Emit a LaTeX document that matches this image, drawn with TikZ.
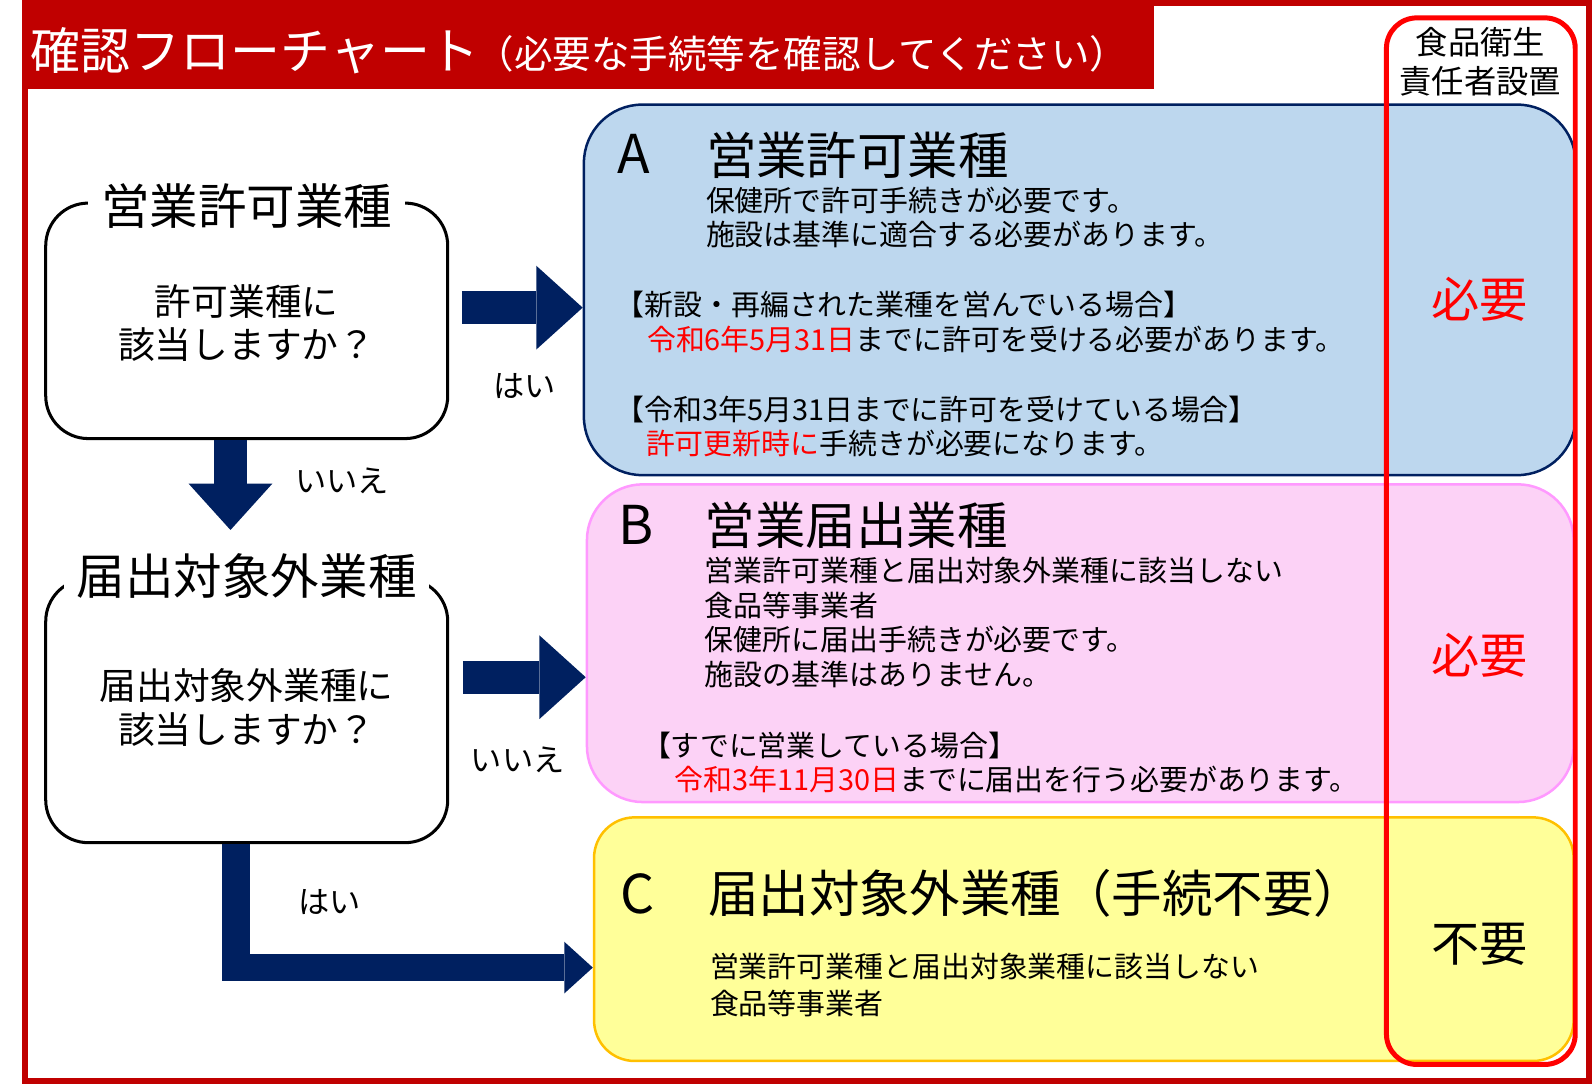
\documentclass[tikz,border=0pt]{standalone}
\usepackage{fontspec}
\setmainfont{Noto Sans CJK JP}
\usepackage{xcolor}
\usepackage{tikz}
\usetikzlibrary{arrows.meta}
\definecolor{titlered}{HTML}{C00000}
\definecolor{navy}{HTML}{002060}
\definecolor{boxblue}{HTML}{BDD7EE}
\definecolor{boxpink}{HTML}{FCD2F6}
\definecolor{pinkline}{HTML}{FF99FF}
\definecolor{boxyellow}{HTML}{FFFF99}
\definecolor{goldline}{HTML}{FFC000}
\tikzset{
  qbox/.style={draw, line width=1.7pt, rounded corners=0.84cm, minimum width=7.92cm},
  qtitle/.style={fill=white, inner xsep=0.25cm, inner ysep=0pt, font=\fontsize{27.2pt}{32pt}\selectfont},
  qtext/.style={align=center, inner sep=0pt, font=\fontsize{20.6pt}{24.4pt}\selectfont},
  ansbox/.style={line width=1.4pt},
  letter/.style={anchor=west, inner sep=0pt, font=\fontsize{30pt}{34pt}\selectfont},
  heading/.style={anchor=west, inner sep=0pt, font=\fontsize{28.3pt}{34pt}\selectfont},
  body/.style={anchor=west, align=left, inner sep=0pt, font=\fontsize{16.2pt}{19.4pt}\selectfont},
  yesno/.style={inner sep=0pt, font=\fontsize{17.5pt}{20pt}\selectfont},
  need/.style={inner sep=0pt, font=\fontsize{27pt}{30pt}\selectfont},
  blockarrow/.style={draw=navy, line width=18.7pt, -{Triangle[length=26pt, width=47pt, line width=0pt]}},
}

\begin{document}
\begin{tikzpicture}[x=0.02cm, y=-0.02cm]
\useasboundingbox (0,0) rectangle (1568,1068);

\fill[titlered] (22,0) rectangle (1137,88);
\draw[titlered, line width=3.4pt] (25,3) rectangle (1565,1065);
\node[anchor=west, inner sep=0pt, white, font=\fontsize{28pt}{32pt}\selectfont] (title) at (30,50) {確認フローチャート};
\node[anchor=west, inner sep=0pt, white, font=\fontsize{21.6pt}{25pt}\selectfont] (subtitle) at (468,53) {（必要な手続等を確認してください）};

\node[ansbox, draw=navy, fill=boxblue, rounded corners=1.15cm, minimum width=19.54cm, minimum height=7.3cm] (A) at (1063.5,285.5) {};
\node[ansbox, draw=pinkline, fill=boxpink, rounded corners=1.1cm, minimum width=19.44cm, minimum height=6.26cm] (B) at (1064,633.5) {};
\node[ansbox, draw=goldline, fill=boxyellow, rounded corners=0.8cm, minimum width=19.3cm, minimum height=4.8cm] (C) at (1067.5,925) {};

\node[letter] (Aletter) at (608,152) {A};
\node[heading] (Ahead) at (695,153) {営業許可業種};
\node[body] (Abody) at (695,214) {保健所で許可手続きが必要です。\\施設は基準に適合する必要があります。};
\node[body] (Anew) at (606,300) {【新設・再編された業種を営んでいる場合】};
\node[body] (Anewdate) at (637,334) {{\color{red}令和6年5月31日}までに許可を受ける必要があります。};
\node[body] (Aold) at (606,403) {【令和3年5月31日までに許可を受けている場合】};
\node[body] (Aolddate) at (636,437) {{\color{red}許可更新時に}手続きが必要になります。};

\node[letter] (Bletter) at (609,517) {B};
\node[heading] (Bhead) at (694,517) {営業届出業種};
\node[body] (Bbody) at (694,613) {営業許可業種と届出対象外業種に該当しない\\食品等事業者\\保健所に届出手続きが必要です。\\施設の基準はありません。};
\node[body] (Bnow) at (632,734) {【すでに営業している場合】};
\node[body] (Bdate) at (664,768) {{\color{red}令和3年11月30日}までに届出を行う必要があります。};

\node[letter] (Cletter) at (611,880) {C};
\node[heading] (Chead) at (697,880) {届出対象外業種（手続不要）};
\node[body, font=\fontsize{16.2pt}{20.4pt}\selectfont] (Cbody) at (699,970) {営業許可業種と届出対象業種に該当しない\\食品等事業者};

\node[draw=red, line width=2.8pt, rounded corners=0.6cm, minimum width=3.72cm, minimum height=20.62cm] (col) at (1458.5,533) {};
\node[align=center, inner sep=0pt, font=\fontsize{18.1pt}{21.5pt}\selectfont] (colhead) at (1458,61) {食品衛生\\責任者設置};
\node[need, red] (Aneed) at (1457,295) {必要};
\node[need, red] (Bneed) at (1457,645) {必要};
\node[need] (Cneed) at (1457,930) {不要};

\node[qbox, minimum height=4.64cm] (q1) at (243,316) {};
\node[qtitle] (q1title) at (243,203) {営業許可業種};
\node[qtext] (q1text) at (243,318) {許可業種に\\該当しますか？};
\node[qbox, minimum height=5.2cm] (q2) at (243,700) {};
\node[qtitle] (q2title) at (243,567) {届出対象外業種};
\node[qtext] (q2text) at (243,697) {届出対象外業種に\\該当しますか？};

\coordinate (rowA) at (455,303);
\coordinate (rowB) at (456,667);
\coordinate (noA) at (227,522);
\coordinate (yesC) at (232.5,953);

\draw[blockarrow] (rowA) -- (A.west |- rowA);
\draw[blockarrow] (q1.south -| noA) -- (noA);
\draw[blockarrow] (rowB) -- (B.west |- rowB);
\draw[blockarrow, line width=15.3pt, line join=miter, -{Triangle[length=16pt, width=29pt, line width=0pt]}] (q2.south -| yesC) |- (C.west |- yesC);

\node[yesno] (yes1) at (517,380) {はい};
\node[yesno] (no1) at (337,474) {いいえ};
\node[yesno] (no2) at (510,748) {いいえ};
\node[yesno] (yes2) at (325,888) {はい};
\end{tikzpicture}
\end{document}
